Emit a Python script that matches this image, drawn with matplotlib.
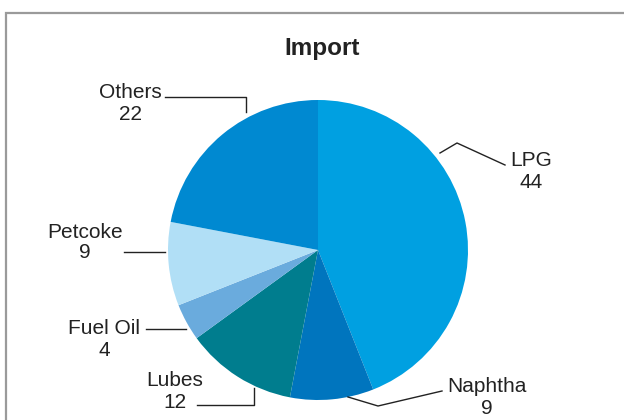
import matplotlib
matplotlib.use("Agg")
import matplotlib.pyplot as plt

# Data
categories = ["LPG", "Naphtha", "Lubes", "Fuel Oil", "Petcoke", "Others"]
values = [44, 9, 12, 4, 9, 22]
colors = ["#00a0e1", "#0075be", "#007d8e", "#6aabdd", "#b1dff6", "#0089d1"]
title = "Import"

W, H = 624, 420
fig = plt.figure(figsize=(W / 100, H / 100), dpi=100)
ax = fig.add_axes([0, 0, 1, 1])
ax.set_xlim(0, W)
ax.set_ylim(0, H)
ax.set_aspect("equal")
ax.axis("off")

def Y(y):
    return H - y

# border
ax.plot([5.5, 5.5, W + 5], [Y(H + 5), Y(12.5), Y(12.5)], color="#9a9a9a", lw=1.6,
        solid_joinstyle="miter", clip_on=False)

ax.pie(values, colors=colors, startangle=90, counterclock=False,
       center=(318, Y(250)), radius=150, frame=True,
       wedgeprops=dict(linewidth=0))
ax.set_xlim(0, W)
ax.set_ylim(0, H)
ax.axis("off")

ax.text(322, Y(49), title, ha="center", va="center", fontsize=17.5,
        fontweight="bold", family="Liberation Sans", color="#222222")

fs = 15
lab_pos = {
    "LPG": (531, 161),
    "Naphtha": (487, 387),
    "Lubes": (175, 381),
    "Fuel Oil": (104, 329),
    "Petcoke": (85, 232),
    "Others": (130, 93),
}
lines = {
    "LPG": [(505, 165), (457, 143), (440, 153)],
    "Naphtha": [(442, 391), (378, 406), (348, 397)],
    "Lubes": [(197, 405), (254, 405), (254, 388)],
    "Fuel Oil": [(146, 329), (186, 329)],
    "Petcoke": [(124, 252), (165, 252)],
    "Others": [(165, 97), (246, 97), (246, 112)],
}
for cat, val in zip(categories, values):
    x, y = lab_pos[cat]
    ax.text(x, Y(y), cat, ha="center", va="center", fontsize=fs,
            family="Liberation Sans", color="#222222")
    ax.text(x, Y(y + 21), str(val), ha="center", va="center", fontsize=fs,
            family="Liberation Sans", color="#222222")
    pts = lines[cat]
    ax.plot([p[0] for p in pts], [Y(p[1]) for p in pts], color="#222222", lw=1.0)

fig.savefig("out.png", dpi=100)
